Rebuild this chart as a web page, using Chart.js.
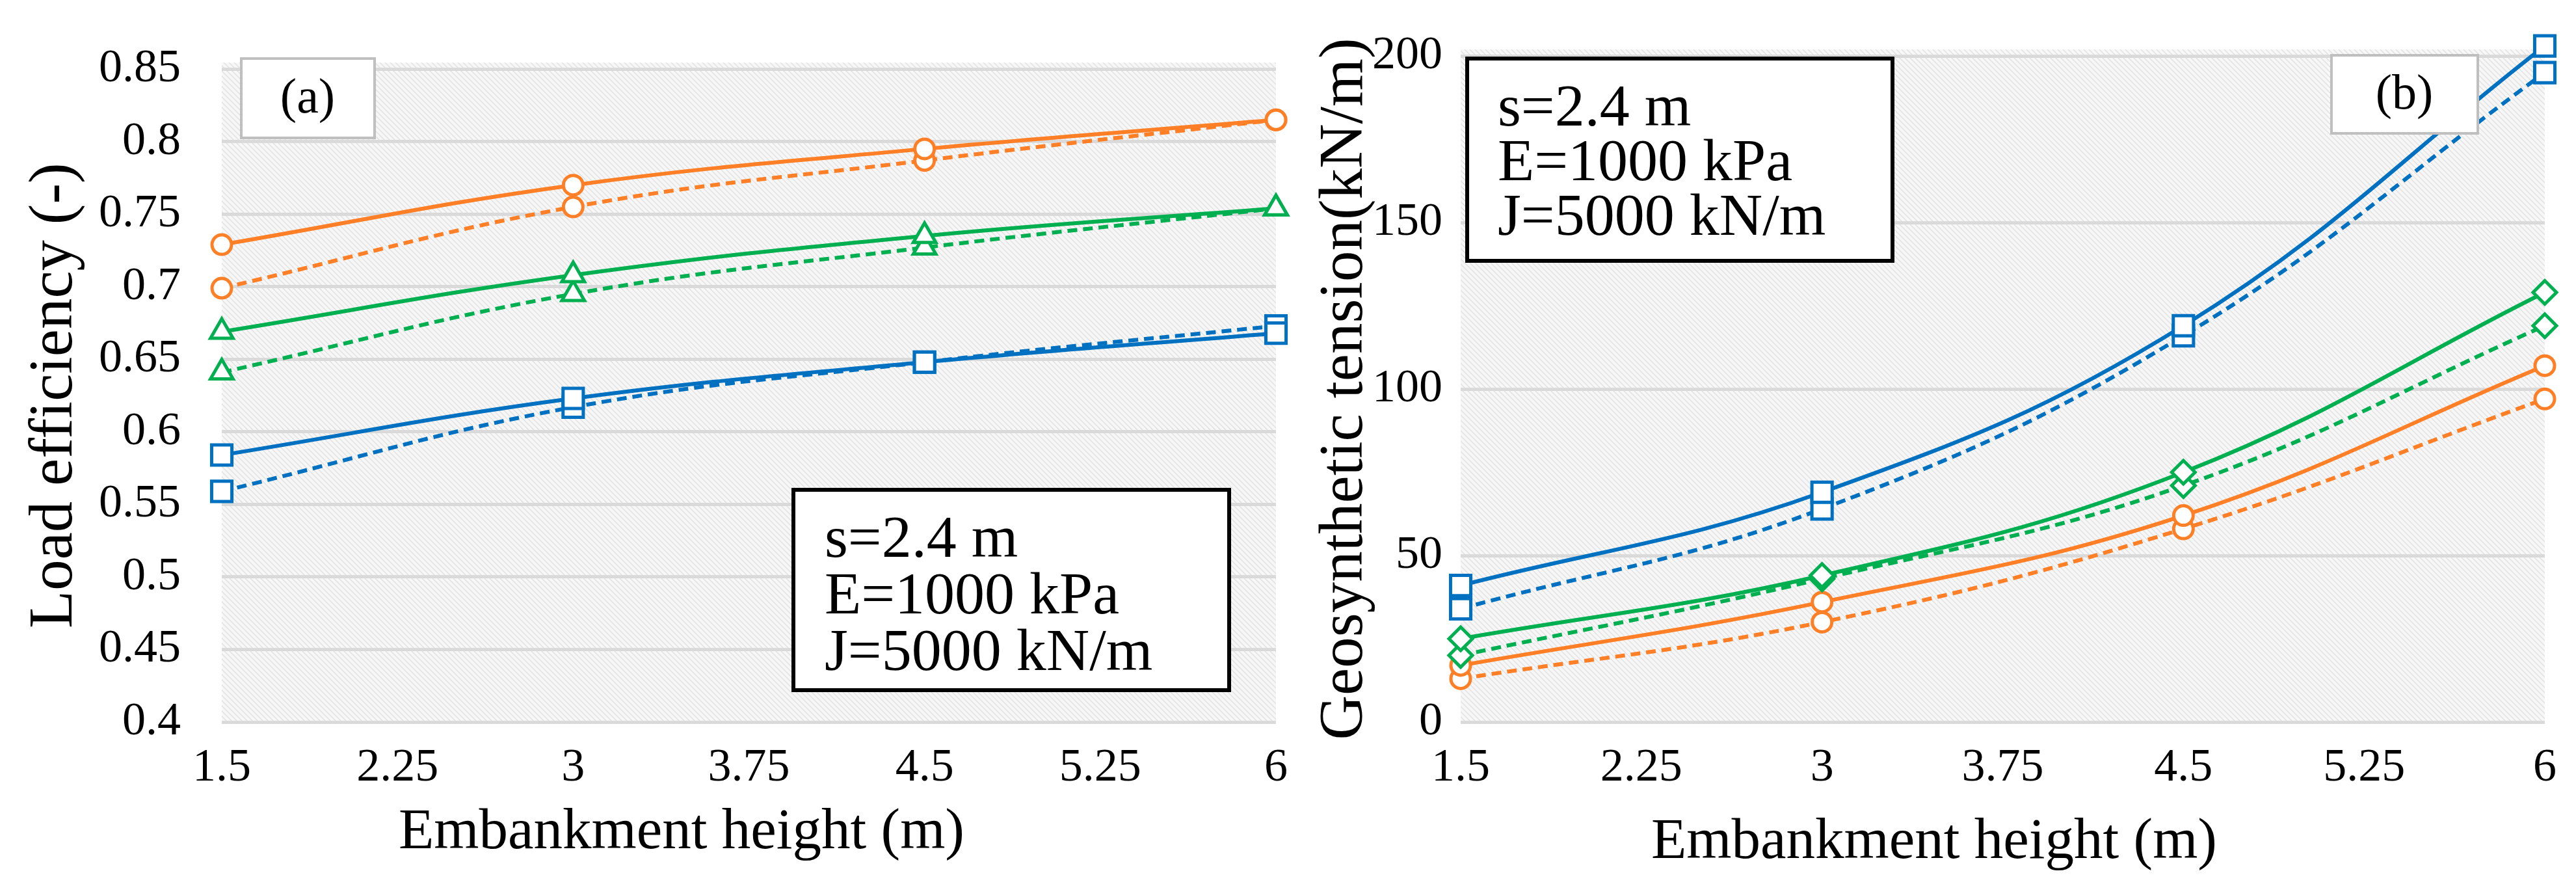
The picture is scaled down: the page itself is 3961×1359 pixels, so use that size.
<!DOCTYPE html>
<html><head><meta charset="utf-8">
<script src="https://cdn.jsdelivr.net/npm/chart.js@4"></script>
<style>
html,body{margin:0;padding:0;background:#fff;}
#wrap{position:relative;width:3961px;height:1359px;overflow:hidden;}
canvas{position:absolute;top:0;}
</style></head><body>
<div id="wrap">
<canvas id="ca" width="2000" height="1359" style="left:0"></canvas>
<canvas id="cb" width="1961" height="1359" style="left:2000px"></canvas>
</div>
<script>
// ---------- data ----------
const heights = [1.5, 3, 4.5, 6];
const xTicks = [1.5, 2.25, 3, 3.75, 4.5, 5.25, 6];
const yTicksA = [0.4, 0.45, 0.5, 0.55, 0.6, 0.65, 0.7, 0.75, 0.8, 0.85];
const yTicksB = [0, 50, 100, 150, 200];

// (a) Load efficiency
const effOrangeSolid  = [0.729, 0.770, 0.795, 0.815];
const effOrangeDashed = [0.699, 0.755, 0.787, 0.815];
const effGreenSolid   = [0.669, 0.708, 0.735, 0.754];
const effGreenDashed  = [0.641, 0.695, 0.727, 0.754];
const effBlueSolid    = [0.584, 0.623, 0.648, 0.668];
const effBlueDashed   = [0.559, 0.617, 0.648, 0.673];

// (b) Geosynthetic tension
const tenBlueSolid    = [41, 69, 119, 203];
const tenBlueDashed   = [34, 64, 116, 195];
const tenGreenSolid   = [25, 44, 75, 129];
const tenGreenDashed  = [20, 43, 71, 119];
const tenOrangeSolid  = [17, 36, 62, 107];
const tenOrangeDashed = [13, 30, 58, 97];

const noteLines = ['s=2.4 m', 'E=1000 kPa', 'J=5000 kN/m'];

// ---------- styles ----------
const ORANGE = '#FF7F27', GREEN = '#00B050', BLUE = '#0070C0';
const FONT = '"Liberation Serif", "Times New Roman", serif';
Chart.defaults.font.family = FONT;

function makeHatch() {
  const c = document.createElement('canvas');
  c.width = 8; c.height = 8;
  const g = c.getContext('2d');
  g.fillStyle = '#f7f7f7';
  g.fillRect(0, 0, 8, 8);
  g.strokeStyle = '#e0e0e0';
  g.lineWidth = 1.3;
  g.beginPath();
  g.moveTo(-2, -2); g.lineTo(10, 10);
  g.moveTo(-2, 6); g.lineTo(2, 10);
  g.moveTo(6, -2); g.lineTo(10, 2);
  g.stroke();
  return c;
}
const hatchCanvas = makeHatch();

const deco = {
  id: 'deco',
  beforeDraw(chart) {
    const { ctx, chartArea: a } = chart;
    ctx.save();
    ctx.fillStyle = ctx.createPattern(hatchCanvas, 'repeat');
    ctx.fillRect(a.left, a.top - 10, a.right - a.left, a.bottom - a.top + 10);
    ctx.restore();
  },
  afterDraw(chart, args, opts) {
    const ctx = chart.ctx;
    ctx.save();
    ctx.fillStyle = '#000';
    ctx.textAlign = 'center';
    ctx.textBaseline = 'middle';
    ctx.font = opts.xTitleSize + 'px ' + FONT;
    ctx.fillText(opts.xTitle, opts.xTitleX, opts.xTitleY);
    for (const b of opts.boxes) {
      ctx.fillStyle = '#fff';
      ctx.fillRect(b.x, b.y, b.w, b.h);
      ctx.lineWidth = b.lw;
      ctx.strokeStyle = b.color;
      ctx.strokeRect(b.x, b.y, b.w, b.h);
      ctx.fillStyle = '#000';
      ctx.font = b.size + 'px ' + FONT;
      ctx.textAlign = b.align;
      b.lines.forEach((t, i) => ctx.fillText(t, b.tx, b.ty + i * b.lh));
    }
    ctx.restore();
  }
};

function ds(values, color, dashed, style, radius) {
  return {
    data: heights.map((h, i) => ({ x: h, y: values[i] })),
    borderColor: color,
    borderWidth: 6,
    borderDash: dashed ? [15, 9] : [],
    tension: 0.4,
    pointStyle: style,
    pointRadius: radius,
    pointBorderWidth: 5,
    pointBorderColor: color,
    pointBackgroundColor: '#fff',
    clip: false,
    fill: false
  };
}

function makeChart(id, datasets, yTicks, yMin, yMax, cfg) {
  return new Chart(document.getElementById(id), {
    type: 'line',
    data: { datasets },
    plugins: [deco],
    options: {
      responsive: false,
      animation: false,
      layout: { padding: { left: 0, top: 86, right: cfg.padRight, bottom: 0 } },
      plugins: {
        legend: { display: false },
        tooltip: { enabled: false },
        deco: cfg.deco
      },
      scales: {
        x: {
          type: 'linear', min: 1.5, max: 6,
          afterBuildTicks: s => { s.ticks = xTicks.map(v => ({ value: v })); },
          afterFit: s => { s.height = 249; },
          grid: { display: false },
          border: { display: false },
          ticks: { font: { family: FONT, size: 72 }, color: '#000', padding: 20, maxRotation: 0,
                   callback: v => String(v) }
        },
        y: {
          min: yMin, max: yMax,
          afterBuildTicks: s => { s.ticks = yTicks.map(v => ({ value: v })); },
          afterFit: s => { s.width = cfg.yWidth; },
          grid: { color: '#dadada', lineWidth: 5, drawTicks: false },
          border: { display: false },
          ticks: { font: { family: FONT, size: 72 }, color: '#000', padding: cfg.yTickPad,
                   callback: v => String(v) },
          title: { display: true, text: cfg.yTitle, color: '#000',
                   font: { family: FONT, size: 95 }, padding: { top: cfg.yTitlePad, bottom: 0 } }
        }
      }
    }
  });
}

makeChart('ca', [
  ds(effOrangeSolid, ORANGE, false, 'circle', 15),
  ds(effOrangeDashed, ORANGE, true, 'circle', 15),
  ds(effGreenSolid, GREEN, false, 'triangle', 20),
  ds(effGreenDashed, GREEN, true, 'triangle', 20),
  ds(effBlueSolid, BLUE, false, 'rect', 22),
  ds(effBlueDashed, BLUE, true, 'rect', 22)
], yTicksA, 0.4, 0.85, {
  padRight: 37, yWidth: 341, yTickPad: 63, yTitle: 'Load efficiency (-)', yTitlePad: 28,
  deco: {
    xTitle: 'Embankment height (m)', xTitleSize: 89, xTitleX: 1048, xTitleY: 1281,
    boxes: [
      { x: 371, y: 90, w: 205, h: 122, lw: 4, color: '#bfbfbf', size: 76, align: 'center',
        tx: 473, ty: 153, lh: 0, lines: ['(a)'] },
      { x: 1220, y: 753, w: 670, h: 308, lw: 6, color: '#000', size: 92, align: 'left',
        tx: 1268, ty: 832, lh: 87, lines: noteLines }
    ]
  }
});

makeChart('cb', [
  ds(tenBlueSolid, BLUE, false, 'rect', 22),
  ds(tenBlueDashed, BLUE, true, 'rect', 22),
  ds(tenGreenSolid, GREEN, false, 'rectRot', 18),
  ds(tenGreenDashed, GREEN, true, 'rectRot', 18),
  ds(tenOrangeSolid, ORANGE, false, 'circle', 15),
  ds(tenOrangeDashed, ORANGE, true, 'circle', 15)
], yTicksB, 0, 200, {
  padRight: 48, yWidth: 246, yTickPad: 28, yTitle: 'Geosynthetic tension(kN/m)', yTitlePad: 12,
  deco: {
    xTitle: 'Embankment height (m)', xTitleSize: 89, xTitleX: 974, xTitleY: 1296,
    boxes: [
      { x: 256, y: 90, w: 654, h: 311, lw: 6, color: '#000', size: 92, align: 'left',
        tx: 303, ty: 169, lh: 84, lines: noteLines },
      { x: 1585, y: 85, w: 225, h: 120, lw: 4, color: '#bfbfbf', size: 76, align: 'center',
        tx: 1697, ty: 147, lh: 0, lines: ['(b)'] }
    ]
  }
});
</script>
</body></html>
